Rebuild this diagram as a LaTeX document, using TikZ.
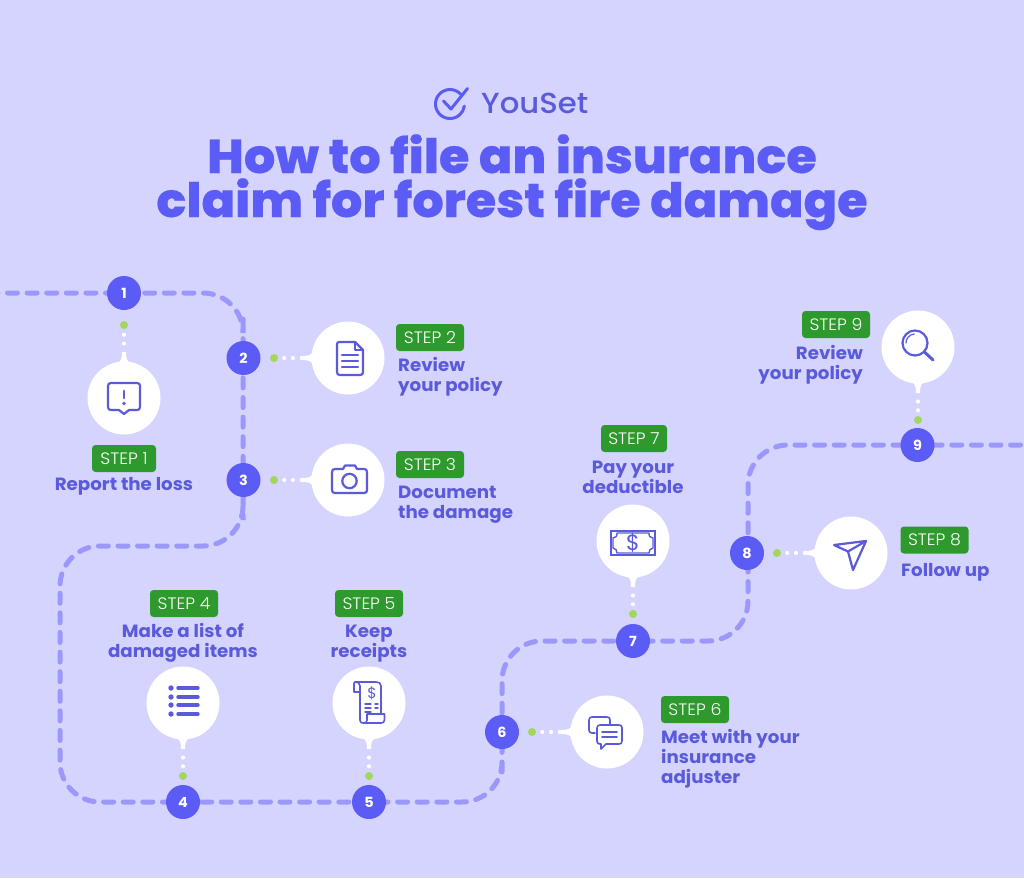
\documentclass[tikz,border=0pt]{standalone}
\usepackage{fontspec}
\setmainfont{Poppins}
\newfontfamily\titlefont[FakeStretch=1.04,FakeBold=0.4]{Poppins ExtraBold}
\newfontfamily\labelfont[FakeStretch=1.03]{Poppins Bold}
\newfontfamily\stepfont[FakeStretch=1.05]{Poppins Light}
\newfontfamily\logofont[FakeStretch=1.06]{Poppins Medium}
\definecolor{bgc}{HTML}{D4D4FF}
\definecolor{inkc}{HTML}{5B5BF5}
\definecolor{labc}{HTML}{5A5ADB}
\definecolor{pathc}{HTML}{9C98FB}
\definecolor{greenb}{HTML}{2E9A2E}
\definecolor{lime}{HTML}{A3D65C}
\tikzset{
  numnode/.style={circle,fill=inkc,text=white,minimum size=34pt,inner sep=0pt,font=\labelfont\fontsize{14}{14}\selectfont},
  bubble/.style={circle,fill=white,minimum size=73pt,inner sep=0pt},
  gdot/.style={circle,fill=lime,minimum size=8pt,inner sep=0pt},
  badge/.style={rectangle,rounded corners=3.5pt,fill=greenb,text=white,minimum width=68pt,minimum height=27pt,inner sep=0pt,font=\stepfont\fontsize{16.5}{16.5}\selectfont},
  steplabel/.style={text=labc,inner sep=0pt,font=\labelfont\fontsize{17.7}{20}\selectfont},
  route/.style={draw=pathc,line width=5pt,line cap=round,dash pattern=on 10pt off 9.6pt,rounded corners=40pt},
  dots/.style={draw=white,line width=4.2pt,line cap=round,dash pattern=on 0pt off 8.8pt,shorten >=46pt},
  icon/.style={draw=labc,line width=2.2pt,line join=round,line cap=round},
}
\newcommand{\calltail}[2]{\fill[white,shift={(#1)},rotate=#2] (35,-6) .. controls (38,-3) and (38,-2.2) .. (46,-2) -- (46,2) .. controls (38,2.2) and (38,3) .. (35,6) -- cycle;}
\begin{document}
\begin{tikzpicture}[x=1pt,y=-1pt]
\useasboundingbox (0,0) rectangle (1024,878);
\fill[bgc] (0,0) rectangle (1024,878);
% header
\draw[draw=inkc,line width=3pt,line cap=round] (461.1,94.7) arc[start angle=40,end angle=352,radius=14.5pt];
\draw[draw=inkc,line width=3pt,line cap=round,line join=round] (443.5,101) -- (451,109) -- (467.5,88.5);
\node[anchor=base west,inner sep=0pt,text=labc,font=\logofont\fontsize{29}{29}\selectfont] (logo) at (481,113) {YouSet};
\node[anchor=base,inner sep=0pt,text=inkc,font=\titlefont\fontsize{47.5}{44}\selectfont,align=center] (title) at (512,217) {How to file an insurance\\claim for forest fire damage};
% positions
\coordinate (startp) at (-12.1,293);
\coordinate (endp) at (1040,445);
\coordinate (c1) at (243,293);
\coordinate (c2) at (243,546);
\coordinate (c3) at (60,546);
\coordinate (c4) at (60,802);
\coordinate (c5) at (502,802);
\coordinate (c6) at (502,641);
\coordinate (c7) at (748,641);
\coordinate (c8) at (748,445);
% number nodes (route is layered under them)
\coordinate (p1) at (124,293);
\coordinate (p2) at (243,358);
\coordinate (p3) at (243,480);
\coordinate (p4) at (183,802);
\coordinate (p5) at (369,802);
\coordinate (p6) at (502,732);
\coordinate (p7) at (633,641);
\coordinate (p8) at (748,553);
\coordinate (p9) at (917.5,445);
\draw[route] (startp) -- (p1) -- (c1) -- (p2) -- (p3) -- (c2) -- (c3) -- (c4) -- (p4) -- (p5) -- (c5) -- (p6) -- (c6) -- (p7) -- (c7) -- (p8) -- (c8) -- (p9) -- (endp);
\node[numnode] (n1) at (124,293) {1};
\node[numnode] (n2) at (243.5,358) {2};
\node[numnode] (n3) at (243.5,480) {3};
\node[numnode] (n4) at (183,802) {4};
\node[numnode] (n5) at (369,802) {5};
\node[numnode] (n6) at (502,732) {6};
\node[numnode] (n7) at (633,641) {7};
\node[numnode] (n8) at (747,553) {8};
\node[numnode] (n9) at (917.5,445) {9};
% bubbles
\node[bubble] (b1) at (124,398) {};
\node[bubble] (b2) at (348,358) {};
\node[bubble] (b3) at (348,480) {};
\node[bubble] (b4) at (183,703) {};
\node[bubble] (b5) at (369,703) {};
\node[bubble] (b6) at (607,732) {};
\node[bubble] (b7) at (633,541) {};
\node[bubble] (b8) at (851,553) {};
\node[bubble] (b9) at (918,347) {};
% green dots
\node[gdot] (g1) at (124,325) {};
\node[gdot] (g2) at (274,358) {};
\node[gdot] (g3) at (274,480) {};
\node[gdot] (g4) at (183,776) {};
\node[gdot] (g5) at (369,776) {};
\node[gdot] (g6) at (532,732) {};
\node[gdot] (g7) at (633,614) {};
\node[gdot] (g8) at (777,553) {};
\node[gdot] (g9) at (918,420) {};
% dotted connectors
\draw[dots] (g1.south) ++(0,5.5) -- (b1.center);
\draw[dots] (g2.east) ++(6,0) -- (b2.center);
\draw[dots] (g3.east) ++(6,0) -- (b3.center);
\draw[dots] (g4.north) ++(0,-5.5) -- (b4.center);
\draw[dots] (g5.north) ++(0,-5.5) -- (b5.center);
\draw[dots] (g6.east) ++(6,0) -- (b6.center);
\draw[dots] (g7.north) ++(0,-5.5) -- (b7.center);
\draw[dots] (g8.east) ++(6,0) -- (b8.center);
\draw[dots] (g9.north) ++(0,-5.5) -- (b9.center);
\calltail{b1}{90}\calltail{b2}{180}\calltail{b3}{180}
\calltail{b4}{-90}\calltail{b5}{-90}\calltail{b6}{180}
\calltail{b7}{-90}\calltail{b8}{180}\calltail{b9}{-90}
% badges
\node[badge,minimum width=64pt] (s1) at (124,458.5) {STEP 1};
\node[badge] (s2) at (430,337.5) {STEP 2};
\node[badge] (s3) at (430,464.5) {STEP 3};
\node[badge] (s4) at (184,603.5) {STEP 4};
\node[badge] (s5) at (369,603.5) {STEP 5};
\node[badge] (s6) at (695,709.5) {STEP 6};
\node[badge,minimum width=66pt] (s7) at (634,438.5) {STEP 7};
\node[badge] (s8) at (934.5,540) {STEP 8};
\node[badge] (s9) at (836,324.5) {STEP 9};
% labels
\node[steplabel,anchor=base] (t1) at (124,490) {Report the loss};
\node[steplabel,anchor=base west,align=left] (t2) at (398,391) {Review\\your policy};
\node[steplabel,anchor=base west,align=left] (t3) at (398,518) {Document\\the damage};
\node[steplabel,anchor=base,align=center] (t4) at (183,657) {Make a list of\\damaged items};
\node[steplabel,anchor=base,align=center] (t5) at (369,657) {Keep\\receipts};
\node[steplabel,anchor=base west,align=left] (t6) at (661,783) {Meet with your\\insurance\\adjuster};
\node[steplabel,anchor=base,align=center] (t7) at (633,493) {Pay your\\deductible};
\node[steplabel,anchor=base west] (t8) at (901,576) {Follow up};
\node[steplabel,anchor=base east,align=right] (t9) at (863,379) {Review\\your policy};
% icon 1
\draw[icon] (111,383) -- (137,383) .. controls (139,383) and (140,384) .. (140,386) -- (140,407) .. controls (140,409) and (139,410) .. (137,410) -- (129,410) -- (124,414) -- (119,410) -- (111,410) .. controls (109,410) and (108,409) .. (108,407) -- (108,386) .. controls (108,384) and (109,383) .. (111,383) -- cycle;
\draw[icon,line width=2.8pt] (124,391) -- (124,398);
\fill[labc] (124,403.5) circle[radius=1.8pt];
% icon 2
\draw[icon] (339,342) -- (355,342) -- (363,350) -- (363,372) .. controls (363,374) and (362,375) .. (360,375) -- (340,375) .. controls (338,375) and (337,374) .. (337,372) -- (337,344) .. controls (337,343) and (338,342) .. (339,342) -- cycle;
\draw[icon] (355,342) -- (355,350) -- (363,350);
\draw[icon] (342,355) -- (358,355);
\draw[icon] (342,361) -- (358,361);
\draw[icon] (342,367) -- (358,367);
% icon 3
\draw[icon] (335,469) -- (343,469) -- (345,465.5) -- (355,465.5) -- (357,469) -- (364,469) .. controls (366,469) and (367,470) .. (367,472) -- (367,490) .. controls (367,492) and (366,493) .. (364,493) -- (335,493) .. controls (333,493) and (332,492) .. (332,490) -- (332,472) .. controls (332,470) and (333,469) .. (335,469) -- cycle;
\draw[icon] (349.5,481) circle[radius=7.2pt];
% icon 4
\foreach \yy in {688,697,705,714}{
  \fill[labc] (171,\yy) circle[radius=2.7pt];
  \draw[icon,line width=3.4pt] (178,\yy) -- (198,\yy);
}
% icon 5
\draw[icon,line width=1.6pt] (355,682) -- (376,682) .. controls (379,682) and (381,683) .. (381,686) -- (381,714);
\draw[icon,line width=1.6pt] (360,686) -- (360,720) .. controls (360,722) and (361,723) .. (363,723) -- (381,723) .. controls (383,723) and (384.5,722) .. (384.5,720) -- (384.5,714) -- (367,714) -- (367,720) .. controls (367,722) and (366,723) .. (363,723);
\draw[icon,line width=1.6pt] (355,682) .. controls (353.5,682) and (354,684) .. (354,686) -- (354,692) -- (360,692);
\draw[icon,line width=1.6pt] (355,682) .. controls (358,682) and (360,683) .. (360,686);
\node[inner sep=0pt,text=labc,font=\fontsize{15}{15}\selectfont] (dollarA) at (372,693) {\$};
\draw[icon,line width=1.4pt] (365,704) -- (371,704) (375,704) -- (378,704) (365,708) -- (371,708) (375,708) -- (378,708) (365,712) -- (371,712);
% icon 6
\draw[icon,line width=1.6pt] (595,733) -- (592,733) .. controls (590,733) and (589,732) .. (589,730) -- (589,720) .. controls (589,718) and (590,717) .. (592,717) -- (607,717) .. controls (609,717) and (610,718) .. (610,720) -- (610,725);
\draw[icon,line width=1.6pt] (600,725) -- (619,725) .. controls (621,725) and (622,726) .. (622,728) -- (622,741) .. controls (622,743) and (621,744) .. (619,744) -- (606,744) -- (601,749) -- (601,744) -- (600,744) .. controls (598,744) and (597,743) .. (597,741) -- (597,728) .. controls (597,726) and (598,725) .. (600,725) -- cycle;
\draw[icon,line width=1.6pt] (602,732) -- (617,732) (602,737) -- (617,737);
% icon 7
\draw[icon,line width=1.5pt,line cap=butt,line join=miter] (611,531) rectangle (655,555);
\draw[icon,line width=1.4pt] (617,533) -- (649,533) .. controls (649,537) and (650,537) .. (653,538) -- (653,548) .. controls (650,549) and (649,550) .. (649,553) -- (617,553) .. controls (617,550) and (616,549) .. (613,548) -- (613,538) .. controls (616,537) and (617,537) .. (617,533) -- cycle;
\node[inner sep=0pt,text=labc,font=\fontsize{22}{22}\selectfont] (dollarB) at (633,543) {\$};
% icon 8
\draw[icon] (834,545) -- (866,541) -- (853,570) -- (848,551.5) -- cycle;
\draw[icon] (848,551.5) -- (866,541);
% icon 9
\draw[icon] (915,343) circle[radius=12.5pt];
\draw[icon,line width=3pt] (925,352.5) -- (933,360);
\draw[icon,line width=1.2pt] (906,343) arc[start angle=180,end angle=95,radius=9pt];
\end{tikzpicture}
\end{document}
